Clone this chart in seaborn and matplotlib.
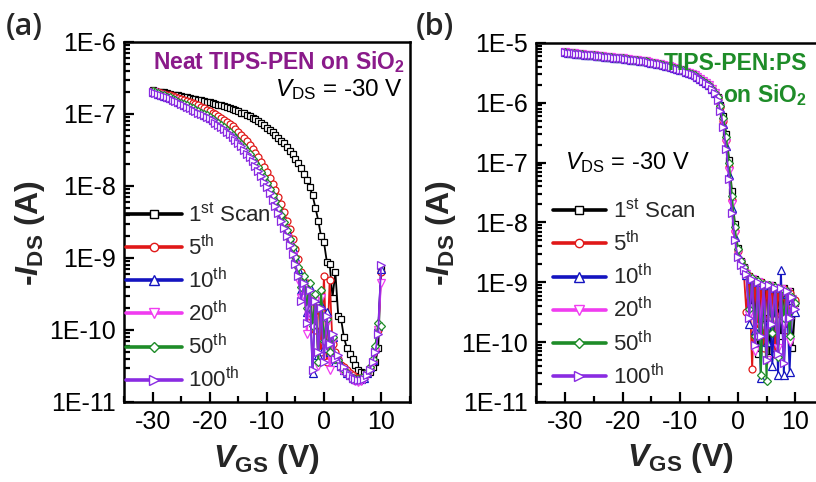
import numpy as np
import matplotlib
matplotlib.use("Agg")
import matplotlib.pyplot as plt
import seaborn as sns
from matplotlib.lines import Line2D
from matplotlib.ticker import LogLocator, NullFormatter, MultipleLocator

# ---------------- data (log10 of -I_DS in A) ----------------
vgs = [-30.0, -29.5, -29.0, -28.5, -28.0, -27.5, -27.0, -26.5, -26.0, -25.5,
       -25.0, -24.5, -24.0, -23.5, -23.0, -22.5, -22.0, -21.5, -21.0, -20.5,
       -20.0, -19.5, -19.0, -18.5, -18.0, -17.5, -17.0, -16.5, -16.0, -15.5,
       -15.0, -14.5, -14.0, -13.5, -13.0, -12.5, -12.0, -11.5, -11.0, -10.5,
       -10.0, -9.5, -9.0, -8.5, -8.0, -7.5, -7.0, -6.5, -6.0, -5.5,
       -5.0, -4.5, -4.0, -3.5, -3.0, -2.5, -2.0, -1.5, -1.0, -0.5,
       0.0, 0.5, 1.0, 1.5, 2.0, 2.5, 3.0, 3.5, 4.0, 4.5,
       5.0, 5.5, 6.0, 6.5, 7.0, 7.5, 8.0, 8.5, 9.0, 9.5,
       10.0]

scans = ["1st", "5th", "10th", "20th", "50th", "100th"]
scan_labels = [r"1$^{\mathrm{st}}$ Scan", r"5$^{\mathrm{th}}$", r"10$^{\mathrm{th}}$",
               r"20$^{\mathrm{th}}$", r"50$^{\mathrm{th}}$", r"100$^{\mathrm{th}}$"]

# Panel (a): neat TIPS-PEN on SiO2
a_1st = [-6.67, -6.68, -6.69, -6.70, -6.70, -6.71, -6.72, -6.73, -6.73, -6.74,
         -6.75, -6.76, -6.77, -6.78, -6.79, -6.79, -6.80, -6.81, -6.82, -6.83,
         -6.84, -6.85, -6.86, -6.87, -6.88, -6.89, -6.91, -6.92, -6.93, -6.95,
         -6.96, -6.98, -6.99, -7.01, -7.03, -7.05, -7.07, -7.10, -7.12, -7.15,
         -7.19, -7.22, -7.25, -7.29, -7.33, -7.37, -7.41, -7.46, -7.51, -7.56,
         -7.62, -7.68, -7.75, -7.83, -7.92, -8.02, -8.13, -8.30, -8.48, -8.70,
         -8.78, -9.05, -9.08, -9.55, -9.20, -9.80, -9.85, -10.10, -10.25, -10.33,
         -10.40, -10.48, -10.55, -10.58, -10.60, -10.60, -10.58, -10.52, -10.45, -10.25,
         -9.15]
a_5th = [-6.68, -6.69, -6.70, -6.71, -6.72, -6.73, -6.74, -6.75, -6.76, -6.78,
         -6.79, -6.80, -6.82, -6.83, -6.85, -6.86, -6.88, -6.90, -6.92, -6.94,
         -6.96, -6.98, -7.00, -7.03, -7.05, -7.08, -7.11, -7.14, -7.17, -7.21,
         -7.25, -7.29, -7.33, -7.38, -7.43, -7.48, -7.54, -7.60, -7.67, -7.74,
         -7.81, -7.89, -7.97, -8.06, -8.15, -8.25, -8.36, -8.48, -8.60, -8.73,
         -8.87, -9.02, -9.20, -9.45, -9.35, -9.80, -9.50, -10.00, -9.60, -10.30,
         -9.25, -10.45, -9.30, -10.20, -10.30, -10.40, -10.48, -10.52, -10.56, -10.60,
         -10.63, -10.65, -10.67, -10.67, -10.65, -10.60, -10.53, -10.43, -10.28, -10.00,
         -9.20]
a_10th = [-6.69, -6.70, -6.72, -6.73, -6.75, -6.76, -6.78, -6.79, -6.81, -6.83,
          -6.85, -6.87, -6.89, -6.91, -6.93, -6.95, -6.97, -6.99, -7.01, -7.03,
          -7.05, -7.08, -7.11, -7.13, -7.16, -7.19, -7.23, -7.26, -7.30, -7.34,
          -7.38, -7.43, -7.47, -7.52, -7.57, -7.63, -7.69, -7.75, -7.82, -7.89,
          -7.97, -8.05, -8.13, -8.22, -8.31, -8.41, -8.51, -8.62, -8.74, -8.86,
          -8.99, -9.15, -9.45, -9.30, -9.75, -9.40, -10.60, -9.55, -10.35, -9.65,
          -10.25, -9.75, -10.30, -10.10, -10.45, -10.40, -10.50, -10.55, -10.60, -10.63,
          -10.66, -10.68, -10.69, -10.68, -10.66, -10.60, -10.52, -10.42, -10.25, -9.95,
          -9.15]
a_20th = [-6.70, -6.71, -6.73, -6.74, -6.76, -6.78, -6.79, -6.81, -6.83, -6.85,
          -6.87, -6.89, -6.91, -6.93, -6.95, -6.97, -6.99, -7.01, -7.03, -7.05,
          -7.08, -7.11, -7.14, -7.17, -7.20, -7.23, -7.27, -7.30, -7.34, -7.38,
          -7.42, -7.47, -7.52, -7.57, -7.62, -7.68, -7.74, -7.81, -7.88, -7.96,
          -8.04, -8.12, -8.21, -8.30, -8.40, -8.50, -8.60, -8.72, -8.84, -8.97,
          -9.10, -9.30, -9.55, -9.40, -10.05, -9.50, -9.85, -9.60, -10.50, -9.55,
          -10.20, -9.90, -10.55, -10.15, -10.40, -10.45, -10.55, -10.58, -10.62, -10.66,
          -10.69, -10.71, -10.72, -10.71, -10.68, -10.63, -10.56, -10.46, -10.30, -10.00,
          -9.35]
a_50th = [-6.68, -6.70, -6.71, -6.73, -6.74, -6.76, -6.77, -6.79, -6.81, -6.83,
          -6.85, -6.86, -6.88, -6.90, -6.92, -6.94, -6.96, -6.98, -7.00, -7.02,
          -7.04, -7.07, -7.10, -7.12, -7.15, -7.18, -7.22, -7.25, -7.29, -7.33,
          -7.37, -7.42, -7.46, -7.51, -7.56, -7.62, -7.68, -7.74, -7.81, -7.88,
          -7.96, -8.04, -8.12, -8.21, -8.30, -8.40, -8.50, -8.61, -8.73, -8.85,
          -8.98, -9.12, -9.40, -9.25, -9.70, -9.35, -9.95, -9.50, -10.45, -9.45,
          -10.15, -9.85, -10.30, -10.10, -10.40, -10.42, -10.52, -10.56, -10.60, -10.64,
          -10.66, -10.68, -10.68, -10.67, -10.64, -10.59, -10.51, -10.40, -10.22, -9.90,
          -9.95]
a_100th = [-6.69, -6.71, -6.72, -6.74, -6.75, -6.77, -6.78, -6.80, -6.82, -6.84,
           -6.86, -6.88, -6.90, -6.92, -6.94, -6.96, -6.98, -7.00, -7.02, -7.04,
           -7.06, -7.09, -7.12, -7.15, -7.18, -7.21, -7.25, -7.28, -7.32, -7.36,
           -7.40, -7.45, -7.50, -7.55, -7.60, -7.66, -7.72, -7.79, -7.86, -7.94,
           -8.02, -8.10, -8.19, -8.28, -8.38, -8.48, -8.58, -8.70, -8.82, -8.95,
           -9.08, -9.25, -9.60, -9.35, -9.90, -9.45, -10.55, -9.60, -10.30, -9.70,
           -10.45, -9.80, -10.20, -10.05, -10.40, -10.35, -10.50, -10.52, -10.58, -10.62,
           -10.66, -10.68, -10.70, -10.70, -10.68, -10.62, -10.55, -10.45, -10.30, -10.05,
           -9.10]

# Panel (b): TIPS-PEN:PS on SiO2 -- on-state part shared (curves overlap), VGS -30 .. -4
b_on_state = [-5.160, -5.165, -5.170, -5.175, -5.180, -5.185, -5.190, -5.195, -5.200, -5.205,
              -5.210, -5.215, -5.220, -5.225, -5.230, -5.235, -5.240, -5.245, -5.250, -5.255,
              -5.260, -5.265, -5.270, -5.280, -5.285, -5.290, -5.300, -5.305, -5.310, -5.320,
              -5.330, -5.340, -5.350, -5.360, -5.370, -5.380, -5.390, -5.400, -5.420, -5.430,
              -5.450, -5.460, -5.480, -5.500, -5.520, -5.540, -5.570, -5.600, -5.630, -5.670,
              -5.710, -5.770, -5.840]
# VGS -3.5 .. 10
b_1st_tail = [-5.90, -6.03, -6.22, -6.52, -6.95, -7.48, -8.02, -8.42,
              -8.64, -8.74, -8.84, -8.90, -9.40, -8.95, -10.20, -9.00, -9.60, -9.05,
              -10.25, -9.05, -9.50, -9.10, -9.90, -9.10, -9.55, -9.15, -10.10, -9.35]
b_5th_tail = [-5.92, -6.07, -6.30, -6.62, -7.08, -7.63, -8.15, -8.48,
              -8.66, -8.76, -9.50, -8.90, -10.45, -8.98, -9.80, -9.00, -10.10, -9.05,
              -9.60, -9.08, -10.20, -9.10, -9.55, -9.12, -9.80, -9.18, -9.40, -9.30]
b_10th_tail = [-5.94, -6.11, -6.36, -6.72, -7.20, -7.76, -8.25, -8.54,
               -8.70, -8.80, -8.88, -9.70, -8.95, -9.80, -9.00, -10.60, -9.05, -10.00,
               -9.05, -10.40, -9.10, -10.55, -8.80, -10.55, -9.20, -10.50, -9.30, -9.50]
b_20th_tail = [-5.93, -6.09, -6.33, -6.67, -7.14, -7.70, -8.20, -8.51,
               -8.68, -8.78, -8.86, -9.55, -8.94, -10.15, -8.99, -9.75, -9.04, -10.30,
               -9.06, -9.65, -9.10, -10.10, -9.12, -9.70, -9.16, -10.00, -9.28, -9.40]
b_50th_tail = [-5.91, -6.05, -6.26, -6.57, -7.01, -7.55, -8.08, -8.45,
               -8.65, -8.75, -8.85, -9.45, -8.93, -9.90, -8.98, -10.55, -9.03, -10.65,
               -9.05, -9.85, -9.08, -10.25, -9.11, -9.60, -9.15, -9.90, -9.25, -9.35]
b_100th_tail = [-5.95, -6.13, -6.40, -6.78, -7.27, -7.84, -8.30, -8.57,
                -8.71, -8.80, -8.86, -9.60, -8.95, -10.05, -9.00, -9.90, -9.05, -10.30,
                -9.05, -9.70, -9.10, -10.20, -9.10, -10.35, -9.15, -9.60, -9.25, -9.45]

a_series = [a_1st, a_5th, a_10th, a_20th, a_50th, a_100th]
b_series = [b_on_state + t for t in
            [b_1st_tail, b_5th_tail, b_10th_tail, b_20th_tail, b_50th_tail, b_100th_tail]]
for s in a_series + b_series:
    assert len(s) == len(vgs), len(s)

a_yticks = [1e-11, 1e-10, 1e-9, 1e-8, 1e-7, 1e-6]
a_yticklabels = ["1E-11", "1E-10", "1E-9", "1E-8", "1E-7", "1E-6"]
b_yticks = [1e-11, 1e-10, 1e-9, 1e-8, 1e-7, 1e-6, 1e-5]
b_yticklabels = ["1E-11", "1E-10", "1E-9", "1E-8", "1E-7", "1E-6", "1E-5"]
xticks = [-30, -20, -10, 0, 10]

# ---------------- style ----------------
colors = ["#000000", "#e01818", "#1414c0", "#f03cf0", "#1e8c28", "#8a2be2"]
markers = ["s", "o", "^", "v", "D", ">"]
msizes = [5, 5, 5.5, 5.5, 4.5, 5.5]

sns.set_style("ticks")
plt.rcParams["font.family"] = ["Liberation Sans", "DejaVu Sans"]
plt.rcParams["mathtext.fontset"] = "custom"
plt.rcParams["mathtext.rm"] = "Liberation Sans"
plt.rcParams["mathtext.it"] = "Liberation Sans:italic"
plt.rcParams["mathtext.bf"] = "Liberation Sans:bold"
plt.rcParams["mathtext.bfit"] = "Liberation Sans:italic:bold"

fig = plt.figure(figsize=(8.16, 4.82), dpi=100)
ax_a = fig.add_axes([0.152, 0.166, 0.350, 0.747])
ax_b = fig.add_axes([0.657, 0.166, 0.353, 0.745])


def draw(ax, series, ylim, yticks, yticklabels):
    ax.set_yscale("log")
    for vals, c, m, ms in zip(series, colors, markers, msizes):
        sns.lineplot(x=vgs, y=np.power(10.0, vals), ax=ax, color=c, marker=m,
                     markersize=ms, mfc="white", mec=c, mew=0.9, lw=1.3,
                     estimator=None, sort=False, legend=False)
    ax.set_xlim(-35, 15)
    ax.set_ylim(*ylim)
    ax.set_xticks(xticks)
    ax.set_xticklabels([str(v) for v in xticks])
    ax.xaxis.set_minor_locator(MultipleLocator(5))
    ax.set_yticks(yticks)
    ax.set_yticklabels(yticklabels)
    ax.yaxis.set_minor_locator(LogLocator(base=10, subs=np.arange(2, 10), numticks=30))
    ax.yaxis.set_minor_formatter(NullFormatter())
    ax.tick_params(which="both", direction="in", top=False, right=False,
                   width=1.6, labelsize=18, colors="black")
    ax.tick_params(which="major", length=7, pad=6)
    ax.tick_params(which="minor", length=4)
    for sp in ax.spines.values():
        sp.set_visible(True)
        sp.set_linewidth(1.8)
        sp.set_color("black")
    ax.set_xlabel(r"$\mathbfit{V}_{\mathbf{GS}}$ (V)", fontsize=23, fontweight="bold")
    ax.set_ylabel(r"-$\mathbfit{I}_{\mathbf{DS}}$ (A)", fontsize=23, fontweight="bold")
    handles = [Line2D([], [], color=c, lw=2.6, marker=m, ms=ms + 1, mfc="white",
                      mec=c, mew=1.0) for c, m, ms in zip(colors, markers, msizes)]
    return handles


h = draw(ax_a, a_series, (1e-11, 1e-6), a_yticks, a_yticklabels)
ax_a.legend(h, scan_labels, loc="lower left", bbox_to_anchor=(0.0, 0.02),
            frameon=False, fontsize=16, handlelength=2.5, handletextpad=0.3,
            labelspacing=0.36, borderaxespad=0, borderpad=0.1)
ax_a.xaxis.set_label_coords(0.5, -0.11)
ax_a.yaxis.set_label_coords(-0.27, 0.47)

h = draw(ax_b, b_series, (1e-11, 1e-5), b_yticks, b_yticklabels)
ax_b.legend(h, scan_labels, loc="lower left", bbox_to_anchor=(0.05, 0.03),
            frameon=False, fontsize=16, handlelength=2.4, handletextpad=0.3,
            labelspacing=0.36, borderaxespad=0, borderpad=0.1)
ax_b.xaxis.set_label_coords(0.5, -0.11)
ax_b.yaxis.set_label_coords(-0.27, 0.47)

# annotations
ax_a.text(0.985, 0.944, r"Neat TIPS-PEN on SiO$_{\mathbf{2}}$", transform=ax_a.transAxes,
          ha="right", va="center", fontsize=16.5, fontweight="bold", color="#8a1a8a")
ax_a.text(0.975, 0.868, r"$V_{\mathrm{DS}}$ = -30 V", transform=ax_a.transAxes,
          ha="right", va="center", fontsize=17.5, color="black")
ax_b.text(0.94, 0.944, "TIPS-PEN:PS", transform=ax_b.transAxes,
          ha="right", va="center", fontsize=16.5, fontweight="bold", color="#1e8c28")
ax_b.text(0.94, 0.855, r"on SiO$_{\mathbf{2}}$", transform=ax_b.transAxes,
          ha="right", va="center", fontsize=16.5, fontweight="bold", color="#1e8c28")
ax_b.text(0.10, 0.668, r"$V_{\mathrm{DS}}$ = -30 V", transform=ax_b.transAxes,
          ha="left", va="center", fontsize=17, color="black")

fig.text(6 / 816, 1 - 27 / 482, "(a)", ha="left", va="center", fontsize=22,
         fontweight="semibold", family=["Open Sans", "DejaVu Sans"])
fig.text(416 / 816, 1 - 27 / 482, "(b)", ha="left", va="center", fontsize=22,
         fontweight="semibold", family=["Open Sans", "DejaVu Sans"])

fig.savefig("out.png", dpi=100)
